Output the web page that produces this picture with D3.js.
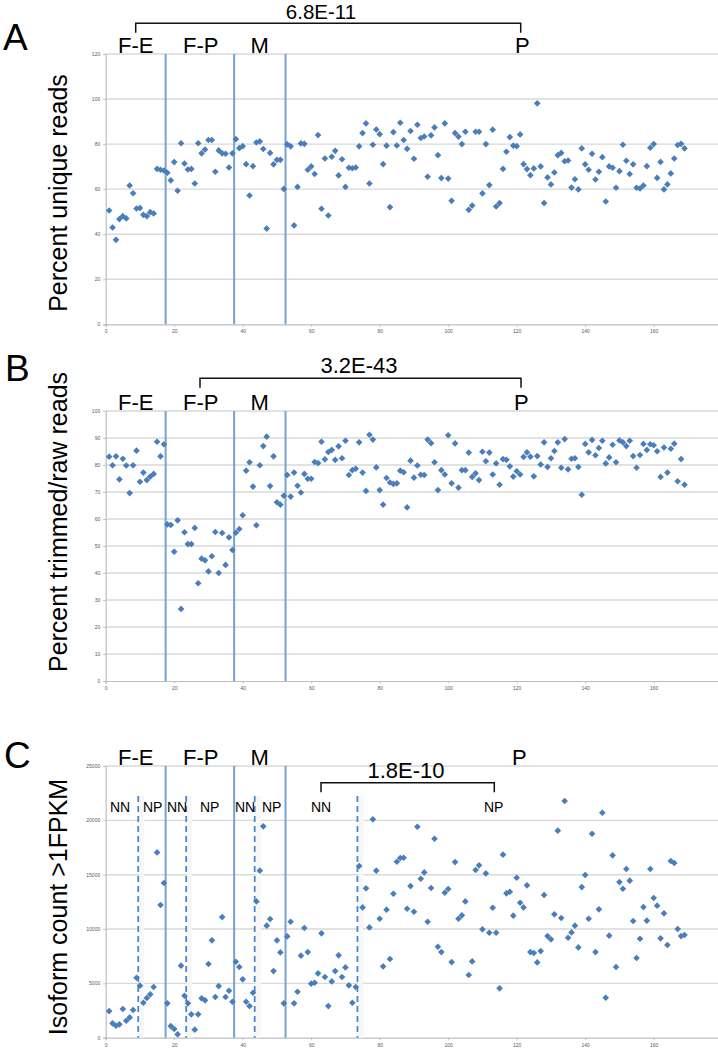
<!DOCTYPE html>
<html>
<head>
<meta charset="utf-8">
<script src="https://cdn.jsdelivr.net/npm/d3@7"></script>
<style>
  body { margin: 0; background: #fff; }
  svg { display: block; font-family: "Liberation Sans", Arial, Helvetica, sans-serif; }
  .tick text { fill: #595959; }
</style>
</head>
<body>
<div id="chart"></div>
<script>
(function(){
  "use strict";

  // --- data (sample number = position in array, starting at 1) ---
  var uniqueReads = [50.5,43,37.5,46.7,48,47,61.6,58.2,51.4,51.6,48.6,48,49.8,49.2,69,68.6,68.3,67.3,63.9,72,
    59.3,80.4,71.4,68.7,69,62.5,80.4,75.9,77.6,81.8,81.8,67.7,77.2,75.9,75.7,69.6,75.9,82.2,78.2,79.1,
    71.1,57.2,70.2,80.7,81.2,77.8,42.5,76.1,71,73,73,60.1,79.9,79,43.9,61,80.3,80.1,68.6,70.1,
    66.7,84,51.3,73.6,48.3,74.4,77,66.1,73.3,61,69.5,69.3,69.6,79,84.9,89.2,62.5,79.7,86.5,84.4,
    71.1,79.3,52,85.3,79.4,89.5,81.8,77.9,85.8,73.5,88.6,82.7,83.4,65.5,83.9,87.4,75.1,64.9,89.2,64.7,
    54.8,84.9,83.3,80,85.5,50.8,52.7,85.5,85.5,58.1,80,61.8,86.4,52.3,53.8,69,76.6,83.1,79.3,79.1,
    84.3,71.1,68.9,66.2,69.2,98.1,70.1,53.8,65.2,62.1,67.4,75.1,76.1,72.4,72.7,60.7,64.4,59.9,78.1,71,
    68.6,75.7,64.3,67.7,74.2,54.5,70.1,69.5,60.6,68,79.7,72.6,66.7,71,60.6,60.3,61.6,70.2,78.4,80,
    65,72.1,59.9,62.1,67,73.6,79.6,80.1,78.1];

  var trimmedReads = [83.1,79.9,83.2,74.7,82.3,79.8,69.6,79.9,85.3,73.8,77.2,74.4,75.7,76.7,88.6,83.2,87.7,58,57.8,47.9,
    59.5,26.7,55.1,50.7,50.7,56.7,36.2,45.3,44.7,40.6,46.2,55.2,40,54.8,43,53.2,48.5,54.9,56.3,61.4,
    77.9,81,72,57.7,79.9,87,90.5,72.2,83.2,66.2,65.3,68.6,76.3,68.3,77.2,72.3,69.8,76.7,74.9,74.9,
    81.1,80.7,88.6,82.1,84.8,85.6,81.9,86.9,82.5,89,76.3,78.1,78.6,88.4,77.2,70.4,91.2,89.4,79.1,70.7,
    65.3,75.2,73.5,73,73.2,77.9,77.3,64.3,81.6,75.3,79.8,76.4,76.3,89.4,88.1,81,70.7,78.1,76.5,91,
    73.2,88,71.6,78.1,78.1,84.6,75.6,76.9,74.4,84.9,81.4,84.6,76.5,80.6,72.7,82.2,81.9,79.5,75.7,77.7,
    76.5,83,84.7,83.1,75.8,83.3,80.2,88.4,79.3,82.5,85.2,88.4,79,89.6,78.4,82.3,82.5,79.3,69,87.8,
    84.7,89.3,83.6,86.3,89,80.6,82.8,87.5,81,89.1,88.4,87,89,83.3,79,83.7,87.8,85.6,87.7,87.3,
    85.1,75.6,86.5,77.2,86,87.9,74,82.2,72.7];

  var isoformCount = [2450,1320,1100,1230,2640,1560,1870,2550,5520,4790,3220,3650,3990,4660,17050,12210,14230,3160,1070,800,
    310,6630,3860,3160,2150,740,2150,3620,3440,6780,8960,3740,4750,11100,3740,4320,3310,6990,6500,5370,
    3310,2910,4140,12540,15370,19450,10310,10920,6130,8960,7850,3160,9320,10670,3160,4230,7550,10090,7880,4970,
    5060,5920,9600,5580,2910,5180,6130,7580,5580,6470,4820,3220,4660,15800,11990,13740,10150,20090,15370,10950,
    6560,11780,7240,13250,16190,16530,16560,11870,13950,11590,19410,14630,15210,10670,13770,18310,8370,7880,13340,13680,
    6960,16160,10950,11260,12540,5770,7020,15430,15860,9970,15120,9660,11960,9660,4540,16840,13280,13430,11230,14720,
    12420,11990,14020,7880,7790,6930,7970,13130,9350,9050,11350,19050,11010,21780,9200,9690,10310,8310,13860,14970,
    10950,18770,7880,11810,20700,3680,9390,16780,6500,14320,13710,15520,14450,10740,7330,9110,12020,10770,15520,12850,
    12150,9140,11440,8530,16260,16070,10000,9350,9450];

  // group boundaries (between sample numbers)
  var stageBreaks = [17.5, 37.5, 52.5];
  var subgroupBreaks = [9.5, 23.5, 43.5, 73.5];
  var stageLabels = ["F-E", "F-P", "M", "P"];
  var subgroupLabels = ["NN", "NP", "NN", "NP", "NN", "NP", "NN", "NP"];
  var xTicks = [0, 20, 40, 60, 80, 100, 120, 140, 160];
  var yTicksA = [0, 20, 40, 60, 80, 100, 120];
  var yTicksB = [0, 10, 20, 30, 40, 50, 60, 70, 80, 90, 100];
  var yTicksC = [0, 5000, 10000, 15000, 20000, 25000];
  var pValues = ["6.8E-11", "3.2E-43", "1.8E-10"];

  var W = 718, H = 1050;
  var blue = "#4a7ebb";

  var svg = d3.select("#chart").append("svg")
    .attr("width", W).attr("height", H);

  var x = d3.scaleLinear().domain([0, 180]).range([105.7, 722.2]);

  var diamond = d3.symbol().type(d3.symbolSquare).size(22);

  function panel(opt) {
    var y = d3.scaleLinear().domain(opt.domain).range([opt.bottom, opt.top]);
    var g = svg.append("g");

    // gridlines
    g.selectAll(".grid").data(opt.yTicks.slice(1)).enter().append("line")
      .attr("x1", x(0)).attr("x2", W)
      .attr("y1", function(d) { return y(d); }).attr("y2", function(d) { return y(d); })
      .attr("stroke", "#d9d9d9").attr("stroke-width", 1.4);

    // axes
    var ya = g.append("g").attr("transform", "translate(" + x(0) + ",0)")
      .call(d3.axisLeft(y).tickValues(opt.yTicks).tickSize(2.5).tickPadding(3).tickFormat(d3.format("d")));
    var xa = g.append("g").attr("transform", "translate(0," + y(0) + ")")
      .call(d3.axisBottom(x).tickValues(xTicks).tickSize(2.5).tickPadding(3));
    [ya, xa].forEach(function(a) {
      a.selectAll("path.domain").attr("stroke", "#bfbfbf").attr("stroke-width", 1.2);
      a.selectAll(".tick line").attr("stroke", "#bfbfbf");
      a.selectAll(".tick text").attr("font-size", 5).attr("font-family", "Liberation Sans, Arial, sans-serif");
    });

    // dashed sub-group lines, with the faint shadow next to them
    if (opt.dashed) {
      g.selectAll(".shade").data(subgroupBreaks).enter().append("rect")
        .attr("x", function(d) { return x(d) + 1; })
        .attr("y", opt.dashTop).attr("width", 5).attr("height", y(0) - opt.dashTop)
        .attr("fill", "#f7f7f7");
      g.selectAll(".dash").data(subgroupBreaks).enter().append("line")
        .attr("x1", function(d) { return x(d); }).attr("x2", function(d) { return x(d); })
        .attr("y1", opt.dashTop).attr("y2", y(0))
        .attr("stroke", "#4a86d0").attr("stroke-width", 1.8).attr("stroke-dasharray", "6,4");
    }

    // stage lines
    g.selectAll(".stage").data(stageBreaks).enter().append("line")
      .attr("x1", function(d) { return x(d); }).attr("x2", function(d) { return x(d); })
      .attr("y1", y(opt.domain[1])).attr("y2", y(0))
      .attr("stroke", "#76a1d4").attr("stroke-width", 2);

    // points
    g.selectAll(".pt").data(opt.values).enter().append("path")
      .attr("d", diamond)
      .attr("transform", function(d, i) {
        return "translate(" + x(i + 1) + "," + y(d) + ") rotate(45)";
      })
      .attr("fill", blue);

    // stage labels
    var lx = [118, 183, 250.5, opt.pX];
    g.selectAll(".stageLab").data(stageLabels).enter().append("text")
      .attr("x", function(d, i) { return lx[i]; })
      .attr("y", opt.labelY)
      .attr("font-size", 22)
      .text(function(d) { return d; });

    // panel letter
    g.append("text").attr("x", opt.letterX).attr("y", opt.letterY)
      .attr("font-size", 37).text(opt.letter);

    // y axis title
    g.append("text")
      .attr("transform", "translate(67," + opt.titleY + ") rotate(-90)")
      .attr("text-anchor", "middle")
      .attr("font-size", 25)
      .text(opt.title);

    // significance bracket
    var b = opt.bracket;
    g.append("path")
      .attr("d", "M" + b[0] + "," + (b[2] + 9.5) + "V" + b[2] + "H" + b[1] + "V" + (b[2] + 9.5))
      .attr("fill", "none").attr("stroke", "#111").attr("stroke-width", 1.5);
    g.append("text")
      .attr("x", opt.pTextX).attr("y", opt.pTextY || (b[2] - 5))
      .attr("text-anchor", "middle")
      .attr("font-size", opt.pSize || 22)
      .text(opt.p);

    return { g: g, y: y };
  }

  panel({
    values: uniqueReads, domain: [0, 120], yTicks: yTicksA,
    top: 54, bottom: 324.3, labelY: 53, pX: 515,
    letter: "A", letterX: 3, letterY: 50,
    title: "Percent unique reads", titleY: 193,
    bracket: [135.7, 520.7, 23.3], p: pValues[0], pTextX: 321, pTextY: 19, pSize: 20.5
  });

  panel({
    values: trimmedReads, domain: [0, 100], yTicks: yTicksB,
    top: 411, bottom: 681, labelY: 410, pX: 514,
    letter: "B", letterX: 5, letterY: 381,
    title: "Percent trimmed/raw reads", titleY: 522,
    bracket: [200, 521, 378.3], p: pValues[1], pTextX: 359
  });

  var c = panel({
    values: isoformCount, domain: [0, 25000], yTicks: yTicksC,
    top: 766, bottom: 1037.7, labelY: 765, pX: 512,
    letter: "C", letterX: 4, letterY: 768,
    title: "Isoform count >1FPKM", titleY: 907,
    bracket: [321, 494.3, 782.7], p: pValues[2], pTextX: 406,
    dashed: true, dashTop: 796
  });

  // sub-group labels in panel C
  var subX = [110, 143, 167, 200, 235, 262, 311, 484];
  c.g.selectAll(".subLab").data(subgroupLabels).enter().append("text")
    .attr("x", function(d, i) { return subX[i]; })
    .attr("y", 812.3)
    .attr("font-size", 14)
    .text(function(d) { return d; });

})();
</script>
</body>
</html>
